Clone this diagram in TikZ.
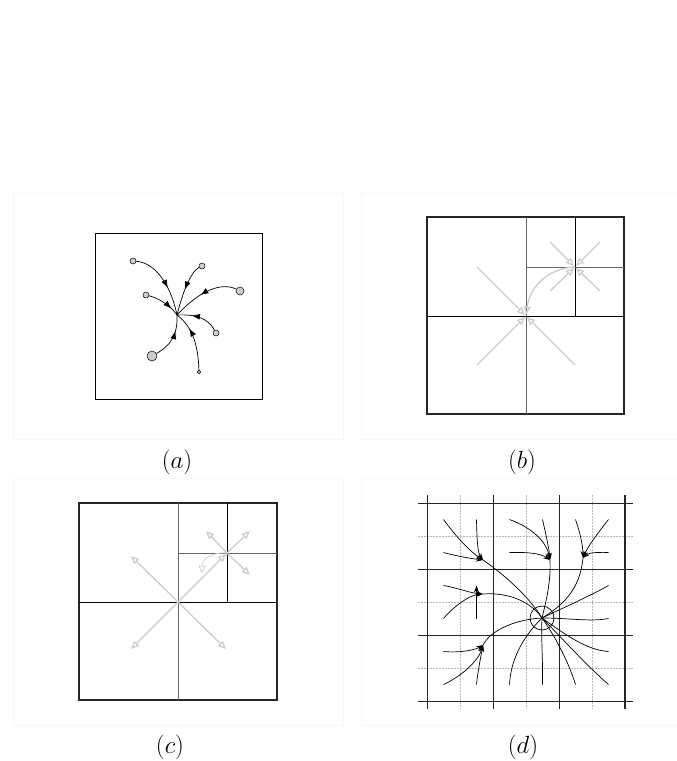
\documentclass[tikz,border=0pt]{standalone}
\usetikzlibrary{arrows.meta, decorations.markings}

\tikzset{
  panel/.style={draw=black!3, line width=0.5pt},
  frame/.style={line width=1.6pt, black!85},
  cell/.style={line width=0.8pt},
  src/.style={circle, draw, line width=0.5pt, fill=gray!40, inner sep=0pt, minimum size=#1},
  flow/.style={line width=0.7pt, postaction={decorate},
    decoration={markings, mark=at position #1 with {\arrow{Latex[length=8pt,width=6pt]}}}},
  flow/.default=0.6,
  ghost/.style={gray!40, line width=1.3pt, shorten >=1.5pt, -{Triangle[open,length=8pt,width=7pt]}},
  major/.style={line width=1pt, black!85},
  minor/.style={line width=0.7pt, gray!55, dash pattern=on 2pt off 1pt},
  stream/.style={line width=0.7pt},
  streamin/.style={line width=0.7pt, -{Stealth[length=7pt,width=5pt,inset=2.5pt]}},
  tag/.style={font=\fontsize{23}{27}\selectfont},
}

\begin{document}
\begin{tikzpicture}[x=1pt, y=-1pt]
  \useasboundingbox (0,0) rectangle (677,761);

  % faint panel frames
  \draw[panel] (13,193) rectangle (343,439);
  \draw[panel] (361,193) rectangle (677,439);
  \draw[panel] (13,478) rectangle (343,725);
  \draw[panel] (361,478) rectangle (677,725);

  % (a) particles pulled to one point
  \draw[cell] (95,233) rectangle (262,399);
  \coordinate (ca) at (177,315);
  \node[src=6pt] (a1) at (133,261) {};
  \node[src=6pt] (a2) at (202,266) {};
  \node[src=8pt] (a3) at (240,291) {};
  \node[src=6pt] (a4) at (146,295) {};
  \node[src=6pt] (a5) at (216,333) {};
  \node[src=10pt] (a6) at (152,356) {};
  \node[src=3.5pt] (a7) at (199,372) {};
  \draw[flow=0.6] (a1) .. controls (158,263) and (172,290) .. (ca);
  \draw[flow=0.5] (a2) .. controls (190,272) and (182,295) .. (ca);
  \draw[flow=0.55] (a3) .. controls (222,282) and (200,290) .. (ca);
  \draw[flow=0.75] (a4) .. controls (158,298) and (170,305) .. (ca);
  \draw[flow=0.65] (a5) .. controls (208,318) and (195,314) .. (ca);
  \draw[flow=0.65] (a6) .. controls (170,346) and (178,335) .. (ca);
  \draw[flow=0.7] (a7) .. controls (198,340) and (190,325) .. (ca);

  % (b) gather
  \draw[frame] (427,217) rectangle (624,414);
  \draw[cell, black!60] (526,217) -- (526,414);
  \draw[cell] (427,316) -- (624,316);
  \draw[cell] (575,217) -- (575,316);
  \draw[cell, black!60] (526,267) -- (624,267);
  \coordinate (cb) at (526,316);
  \coordinate (cb2) at (575,267);
  \foreach \dx/\dy in {-49/-49,-49/49,49/49}
    \draw[ghost] ([shift={(\dx,\dy)}]cb) -- (cb);
  \foreach \dx/\dy in {-25/-25,25/-25,-25/24,25/24}
    \draw[ghost] ([shift={(\dx,\dy)}]cb2) -- (cb2);
  \draw[ghost] (cb2) .. controls (550,268) and (530,285) .. (cb);

  % (c) scatter
  \draw[frame] (79,503) rectangle (277,700);
  \draw[cell, black!60] (178,503) -- (178,700);
  \draw[cell] (79,602) -- (277,602);
  \draw[cell] (227,503) -- (227,602);
  \draw[cell, black!60] (178,553) -- (277,553);
  \coordinate (cc) at (178,602);
  \coordinate (cc2) at (227,553);
  \foreach \dx/\dy in {-48/-47,-48/48,49/48}
    \draw[ghost] (cc) -- ([shift={(\dx,\dy)}]cc);
  \draw[ghost] (cc) -- (cc2);
  \foreach \dx/\dy in {-22/-23,24/-23,24/23}
    \draw[ghost] (cc2) -- ([shift={(\dx,\dy)}]cc2);
  \draw[ghost, line width=0.8pt] (cc2) .. controls (210,552) and (202,560) .. ([shift={(-25,22)}]cc2);

  % (d) streamlines on the grid
  \foreach \k in {1,3,5} {
    \draw[minor] (427+33*\k,495) -- (427+33*\k,709);
    \draw[minor] (418,503+33*\k) -- (633,503+33*\k);
  }
  \foreach \k in {0,2,4}
    \draw[major] (427+33*\k,495) -- (427+33*\k,709);
  \draw[major, line width=1.8pt] (625,495) -- (625,709);
  \foreach \k in {0,2,4,6}
    \draw[major] (418,503+33*\k) -- (633,503+33*\k);
  \foreach \i in {1,...,6}
    \foreach \j in {1,...,6}
      \coordinate (s\i\j) at (427+33*\i-16.5,503+33*\j-16.5);
  \node[draw, circle, minimum size=24pt, inner sep=0pt, line width=0.7pt] (cd) at (542,618) {};
  \coordinate (n1) at (483,560);
  \coordinate (n2) at (483,594);
  \coordinate (n3) at (483,645);
  \coordinate (n4) at (550,560);
  \coordinate (n5) at (583,558);

  \draw[streamin] (s11) .. controls (455,535) and (468,550) .. (n1);
  \draw[streamin] (s21) .. controls (477,545) and (478,553) .. (n1);
  \draw[streamin] (s12) .. controls (460,557) and (475,559) .. (n1);
  \draw[stream] (n1) .. controls (505,575) and (530,598) .. (cd.center);

  \draw[streamin] (s13) .. controls (458,588) and (470,593) .. (n2);
  \draw[streamin] (s14) .. controls (455,605) and (470,595) .. (n2);
  \draw[streamin] (s24) -- (s23);
  \draw[stream] (n2) .. controls (510,592) and (532,603) .. (cd.center);

  \draw[streamin] (s15) .. controls (460,653) and (475,650) .. (n3);
  \draw[streamin] (s16) .. controls (460,677) and (478,662) .. (n3);
  \draw[streamin] (s26) .. controls (478,670) and (481,656) .. (n3);
  \draw[stream] (n3) .. controls (492,628) and (520,619) .. (cd.center);

  \draw[streamin] (s31) .. controls (530,527) and (546,540) .. (n4);
  \draw[streamin] (s41) .. controls (546,535) and (549,548) .. (n4);
  \draw[streamin] (s32) .. controls (525,552) and (540,553) .. (n4);
  \draw[stream] (n4) .. controls (551,582) and (546,602) .. (cd.center);

  \draw[streamin] (s51) .. controls (580,532) and (583,546) .. (n5);
  \draw[streamin] (s61) .. controls (598,533) and (588,546) .. (n5);
  \draw[streamin] (s62) .. controls (596,552) and (588,553) .. (n5);
  \draw[stream] (n5) .. controls (580,590) and (562,606) .. (cd.center);

  \draw[stream] (s63) .. controls (590,596) and (565,607) .. (cd.center);
  \draw[stream] (s64) .. controls (590,622) and (570,618) .. (cd.center);
  \draw[stream] (s65) .. controls (585,650) and (562,632) .. (cd.center);
  \draw[stream] (s66) .. controls (586,665) and (560,636) .. (cd.center);
  \draw[stream] (s56) .. controls (568,660) and (553,633) .. (cd.center);
  \draw[stream] (s46) .. controls (543,660) and (541,640) .. (cd.center);
  \draw[stream] (s36) .. controls (511,655) and (527,633) .. (cd.center);

  % captions
  \node[tag] (la) at (177,462) {$(a)$};
  \node[tag] (lb) at (522,462) {$(b)$};
  \node[tag] (lc) at (170,747) {$(c)$};
  \node[tag] (ld) at (523,747) {$(d)$};
\end{tikzpicture}
\end{document}
